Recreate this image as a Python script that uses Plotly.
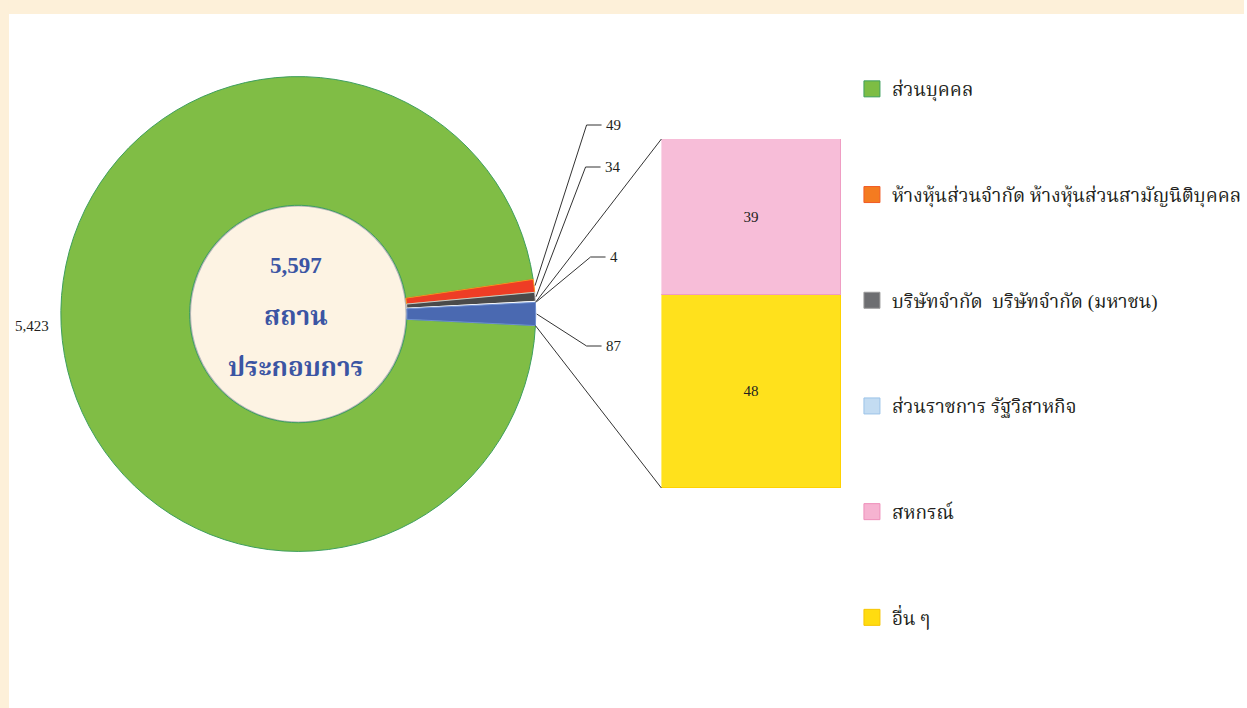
import math
import plotly.graph_objects as go

# ---------------- data ----------------
pie_labels = ["ส่วนบุคคล", "ห้างหุ้นส่วนจำกัด ห้างหุ้นส่วนสามัญนิติบุคคล",
              "บริษัทจำกัด  บริษัทจำกัด (มหาชน)", "ส่วนราชการ รัฐวิสาหกิจ", "อื่น"]
pie_values = [5423, 49, 34, 4, 87]
bar_labels = ["สหกรณ์", "อื่น ๆ"]
bar_values = [39, 48]
legend_labels = ["ส่วนบุคคล", "ห้างหุ้นส่วนจำกัด ห้างหุ้นส่วนสามัญนิติบุคคล",
                 "บริษัทจำกัด  บริษัทจำกัด (มหาชน)", "ส่วนราชการ รัฐวิสาหกิจ",
                 "สหกรณ์", "อื่น ๆ"]
total_label = "5,597"
center_lines = ["สถาน", "ประกอบการ"]

# ---------------- layout constants ----------------
W, H = 1247, 708
CX, CY, R = 299, 314, 238          # pie centre / radius in px
R_IN = 109                         # inner (cream) circle radius in px
BAR_X0, BAR_X1 = 663, 843          # bar left/right px
BAR_TOP, BAR_BOT = 139, 488        # bar top/bottom px

pie_colors = ["#80bd45", "#ee3d25", "#4a4a4a", "#b9d5ef", "#4a69b1"]
pie_lines = ["#3e9f5e", "#f7941d", "#c8c8c8", "#ffffff", "#6f8fd0"]
bar_colors = ["#f7bdd8", "#ffe11c"]
legend_colors = ["#7dbd44", "#f47b20", "#6d6e71", "#c3dcf2", "#f6b3d1", "#ffdc10"]
legend_lines = ["#3e9f5e", "#f15a24", "#9a9a9a", "#9cc3e8", "#ee8fba", "#f6c400"]

SERIF = "Liberation Serif, Noto Serif Thai, Noto Sans Thai, Tlwg Typo, serif"
TEXT = "#231f20"
BLUE = "#3b55a3"


def px(x):
    return x / W


def py(y):
    return (H - y) / H


total = sum(pie_values)
rotation = 90 + pie_values[-1] / total * 180   # centre the last slice at 3 o'clock

# slice angles (clockwise from 12 o'clock, degrees)
starts, ends = [], []
a = rotation
for v in pie_values:
    starts.append(a)
    a += v / total * 360
    ends.append(a)


def pt(angle_deg, r):
    t = math.radians(angle_deg)
    return CX + r * math.sin(t), CY - r * math.cos(t)


fig = go.Figure()

fig.add_trace(go.Pie(
    labels=pie_labels, values=pie_values, sort=False, direction="clockwise",
    rotation=rotation, textinfo="none", hoverinfo="label+value",
    hole=R_IN / R,
    marker=dict(colors=pie_colors, line=dict(color=pie_lines, width=1)),
    domain=dict(x=[px(CX - R), px(CX + R)], y=[py(CY + R), py(CY - R)]),
    showlegend=False,
))

# stacked bar for the breakdown of the last slice (bottom first)
for lab, val, col, lc in [(bar_labels[1], bar_values[1], bar_colors[1], "#ffd200"),
                          (bar_labels[0], bar_values[0], bar_colors[0], "#ef9cc3")]:
    fig.add_trace(go.Bar(
        x=[0], y=[val], name=lab, width=[1], marker=dict(color=col, line=dict(color=lc, width=1)),
        text=[str(val)], textposition="inside", insidetextanchor="middle",
        textfont=dict(family=SERIF, size=15, color=TEXT),
        showlegend=False, xaxis="x", yaxis="y",
    ))

# legend entries
for i, (lab, col, lc) in enumerate(zip(legend_labels, legend_colors, legend_lines)):
    fig.add_trace(go.Scatter(
        x=[None], y=[None], mode="markers", name=lab, legendgroup=f"g{i}",
        marker=dict(symbol="square", size=16, color=col, line=dict(color=lc, width=1)),
    ))

shapes = []
# background decoration (beige frame strips)
shapes.append(dict(type="rect", xref="paper", yref="paper", x0=0, x1=1, y0=py(14), y1=1,
                   fillcolor="#fdf0d9", line_width=0, layer="below"))
shapes.append(dict(type="rect", xref="paper", yref="paper", x0=0, x1=px(9), y0=0, y1=1,
                   fillcolor="#fdf0d9", line_width=0, layer="below"))
# inner cream circle, seen through the pie hole
shapes.append(dict(type="circle", xref="paper", yref="paper",
                   x0=px(CX - R_IN), x1=px(CX + R_IN), y0=py(CY + R_IN), y1=py(CY - R_IN),
                   fillcolor="#fdf3e3", line=dict(color="#b5b5b8", width=3), layer="below"))

# connector lines from the last slice to the bar
p_top = pt(starts[-1], R)
p_bot = pt(ends[-1], R)
shapes.append(dict(type="line", xref="paper", yref="paper", x0=px(p_top[0]), y0=py(p_top[1]),
                   x1=px(BAR_X0), y1=py(BAR_TOP), line=dict(color="#333333", width=1), layer="above"))
shapes.append(dict(type="line", xref="paper", yref="paper", x0=px(p_bot[0]), y0=py(p_bot[1]),
                   x1=px(BAR_X0), y1=py(BAR_BOT), line=dict(color="#333333", width=1), layer="above"))

annotations = []
# leader-line labels for small slices
elbows = {1: (588, 125), 2: (587, 167), 3: (592, 257), 4: (588, 346)}
for i, (ex, ey) in elbows.items():
    mid = (starts[i] + ends[i]) / 2
    sx, sy = pt(mid, R + 1)
    path = f"M{px(sx)},{py(sy)} L{px(ex)},{py(ey)} L{px(ex + 15)},{py(ey)}"
    shapes.append(dict(type="path", xref="paper", yref="paper", path=path,
                       line=dict(color="#333333", width=1), layer="above"))
    annotations.append(dict(x=px(ex + 17), y=py(ey), xref="paper", yref="paper",
                            text=f"{pie_values[i]:,}", showarrow=False, xanchor="left",
                            yanchor="middle", font=dict(family=SERIF, size=15, color=TEXT)))

# big slice label on the left
mid0 = (starts[0] + ends[0]) / 2
lx, ly = pt(mid0, R + 10)
annotations.append(dict(x=px(lx), y=py(ly), xref="paper", yref="paper",
                        text=f"{pie_values[0]:,}", showarrow=False, xanchor="right",
                        yanchor="middle", font=dict(family=SERIF, size=15, color=TEXT)))

# centre text
for txt, yy, sz in [(total_label, 265, 23), (center_lines[0], 317, 26), (center_lines[1], 367, 26)]:
    annotations.append(dict(x=px(CX - 2), y=py(yy), xref="paper", yref="paper",
                            text=f"<b>{txt}</b>", showarrow=False, xanchor="center",
                            yanchor="middle", font=dict(family=SERIF, size=sz, color=BLUE)))

fig.update_layout(
    width=W, height=H,
    margin=dict(l=0, r=0, t=0, b=0),
    paper_bgcolor="white", plot_bgcolor="rgba(0,0,0,0)",
    barmode="stack", bargap=0,
    xaxis=dict(domain=[px(BAR_X0), px(BAR_X1)], range=[-0.5, 0.5], visible=False, fixedrange=True),
    yaxis=dict(domain=[py(BAR_BOT), py(BAR_TOP)], range=[0, sum(bar_values)], visible=False, fixedrange=True),
    legend=dict(x=px(854), y=py(70), xanchor="left", yanchor="top",
                font=dict(family=SERIF, size=19, color=TEXT),
                tracegroupgap=78, bgcolor="rgba(0,0,0,0)", itemclick=False, itemdoubleclick=False),
    shapes=shapes, annotations=annotations,
    showlegend=True,
)

fig.write_html("out.html", config={"displayModeBar": False},
               post_script="document.body.style.margin='0';")
